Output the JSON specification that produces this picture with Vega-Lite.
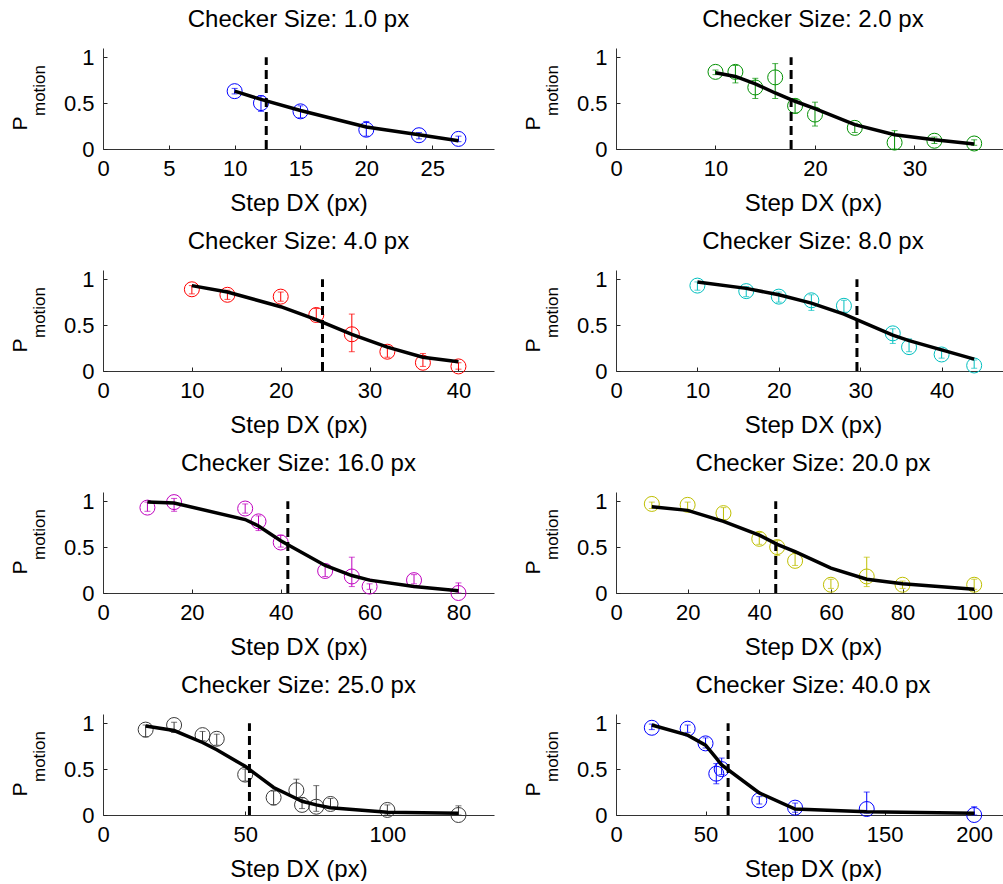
{
"$schema": "https://vega.github.io/schema/vega-lite/v6.json",
"padding": {"left": 9, "top": 8, "right": 0, "bottom": 0},
"datasets": {
"pts": [
{"panel":1,"dx":10,"p":0.63,"lo":0.60,"hi":0.66},
{"panel":1,"dx":12,"p":0.50,"lo":0.41,"hi":0.58},
{"panel":1,"dx":15,"p":0.41,"lo":0.34,"hi":0.47},
{"panel":1,"dx":20,"p":0.21,"lo":0.14,"hi":0.30},
{"panel":1,"dx":24,"p":0.15,"lo":0.11,"hi":0.18},
{"panel":1,"dx":27,"p":0.11,"lo":0.08,"hi":0.14},
{"panel":2,"dx":10,"p":0.84,"lo":0.81,"hi":0.86},
{"panel":2,"dx":12,"p":0.84,"lo":0.72,"hi":0.91},
{"panel":2,"dx":14,"p":0.67,"lo":0.55,"hi":0.77},
{"panel":2,"dx":16,"p":0.78,"lo":0.55,"hi":0.93},
{"panel":2,"dx":18,"p":0.47,"lo":0.39,"hi":0.54},
{"panel":2,"dx":20,"p":0.375,"lo":0.25,"hi":0.51},
{"panel":2,"dx":24,"p":0.23,"lo":0.18,"hi":0.28},
{"panel":2,"dx":28,"p":0.07,"lo":0.0,"hi":0.2},
{"panel":2,"dx":32,"p":0.09,"lo":0.06,"hi":0.13},
{"panel":2,"dx":36,"p":0.06,"lo":0.04,"hi":0.10},
{"panel":3,"dx":10,"p":0.89,"lo":0.84,"hi":0.93},
{"panel":3,"dx":14,"p":0.83,"lo":0.78,"hi":0.88},
{"panel":3,"dx":20,"p":0.81,"lo":0.76,"hi":0.86},
{"panel":3,"dx":24,"p":0.61,"lo":0.55,"hi":0.68},
{"panel":3,"dx":28,"p":0.40,"lo":0.21,"hi":0.62},
{"panel":3,"dx":32,"p":0.21,"lo":0.15,"hi":0.27},
{"panel":3,"dx":36,"p":0.09,"lo":0.05,"hi":0.19},
{"panel":3,"dx":40,"p":0.05,"lo":0.02,"hi":0.09},
{"panel":4,"dx":10,"p":0.93,"lo":0.88,"hi":0.97},
{"panel":4,"dx":16,"p":0.87,"lo":0.81,"hi":0.92},
{"panel":4,"dx":20,"p":0.81,"lo":0.75,"hi":0.86},
{"panel":4,"dx":24,"p":0.77,"lo":0.66,"hi":0.83},
{"panel":4,"dx":28,"p":0.71,"lo":0.64,"hi":0.77},
{"panel":4,"dx":34,"p":0.41,"lo":0.30,"hi":0.46},
{"panel":4,"dx":36,"p":0.26,"lo":0.21,"hi":0.35},
{"panel":4,"dx":40,"p":0.18,"lo":0.14,"hi":0.24},
{"panel":4,"dx":44,"p":0.06,"lo":0.03,"hi":0.12},
{"panel":5,"dx":10,"p":0.93,"lo":0.89,"hi":0.99},
{"panel":5,"dx":16,"p":0.99,"lo":0.89,"hi":1.03},
{"panel":5,"dx":32,"p":0.92,"lo":0.87,"hi":0.97},
{"panel":5,"dx":35,"p":0.78,"lo":0.68,"hi":0.84},
{"panel":5,"dx":40,"p":0.55,"lo":0.50,"hi":0.63},
{"panel":5,"dx":50,"p":0.24,"lo":0.18,"hi":0.30},
{"panel":5,"dx":56,"p":0.18,"lo":0.07,"hi":0.39},
{"panel":5,"dx":60,"p":0.07,"lo":0.04,"hi":0.10},
{"panel":5,"dx":70,"p":0.14,"lo":0.10,"hi":0.20},
{"panel":5,"dx":80,"p":0.0,"lo":0.0,"hi":0.11},
{"panel":6,"dx":10,"p":0.97,"lo":0.92,"hi":0.99},
{"panel":6,"dx":20,"p":0.96,"lo":0.91,"hi":0.99},
{"panel":6,"dx":30,"p":0.87,"lo":0.80,"hi":0.93},
{"panel":6,"dx":40,"p":0.59,"lo":0.53,"hi":0.66},
{"panel":6,"dx":45,"p":0.50,"lo":0.41,"hi":0.57},
{"panel":6,"dx":50,"p":0.35,"lo":0.30,"hi":0.44},
{"panel":6,"dx":60,"p":0.09,"lo":0.05,"hi":0.15},
{"panel":6,"dx":70,"p":0.18,"lo":0.07,"hi":0.39},
{"panel":6,"dx":80,"p":0.09,"lo":0.05,"hi":0.13},
{"panel":6,"dx":100,"p":0.09,"lo":0.04,"hi":0.15},
{"panel":7,"dx":15,"p":0.93,"lo":0.85,"hi":0.98},
{"panel":7,"dx":25,"p":0.98,"lo":0.90,"hi":1.01},
{"panel":7,"dx":35,"p":0.87,"lo":0.81,"hi":0.91},
{"panel":7,"dx":40,"p":0.83,"lo":0.76,"hi":0.88},
{"panel":7,"dx":50,"p":0.44,"lo":0.37,"hi":0.50},
{"panel":7,"dx":60,"p":0.19,"lo":0.11,"hi":0.26},
{"panel":7,"dx":68,"p":0.27,"lo":0.18,"hi":0.39},
{"panel":7,"dx":70,"p":0.11,"lo":0.07,"hi":0.19},
{"panel":7,"dx":75,"p":0.09,"lo":0.04,"hi":0.32},
{"panel":7,"dx":80,"p":0.12,"lo":0.07,"hi":0.18},
{"panel":7,"dx":100,"p":0.055,"lo":0.01,"hi":0.11},
{"panel":7,"dx":125,"p":0.0,"lo":0.0,"hi":0.10},
{"panel":8,"dx":20,"p":0.95,"lo":0.93,"hi":0.99},
{"panel":8,"dx":40,"p":0.94,"lo":0.90,"hi":0.98},
{"panel":8,"dx":50,"p":0.78,"lo":0.73,"hi":0.84},
{"panel":8,"dx":56,"p":0.45,"lo":0.34,"hi":0.56},
{"panel":8,"dx":59,"p":0.50,"lo":0.44,"hi":0.62},
{"panel":8,"dx":80,"p":0.16,"lo":0.12,"hi":0.20},
{"panel":8,"dx":100,"p":0.08,"lo":0.03,"hi":0.13},
{"panel":8,"dx":140,"p":0.065,"lo":0.02,"hi":0.25},
{"panel":8,"dx":200,"p":0.0,"lo":0.0,"hi":0.09}
],
"fit": [
{"panel":1,"dx":10,"p":0.63},{"panel":1,"dx":12,"p":0.54},{"panel":1,"dx":15,"p":0.42},{"panel":1,"dx":20,"p":0.24},{"panel":1,"dx":24,"p":0.155},{"panel":1,"dx":27,"p":0.09},
{"panel":2,"dx":10,"p":0.83},{"panel":2,"dx":12,"p":0.79},{"panel":2,"dx":14,"p":0.71},{"panel":2,"dx":16,"p":0.61},{"panel":2,"dx":18,"p":0.52},{"panel":2,"dx":20,"p":0.44},{"panel":2,"dx":24,"p":0.265},{"panel":2,"dx":28,"p":0.155},{"panel":2,"dx":32,"p":0.10},{"panel":2,"dx":36,"p":0.055},
{"panel":3,"dx":10,"p":0.93},{"panel":3,"dx":14,"p":0.86},{"panel":3,"dx":20,"p":0.70},{"panel":3,"dx":24,"p":0.56},{"panel":3,"dx":28,"p":0.40},{"panel":3,"dx":32,"p":0.26},{"panel":3,"dx":36,"p":0.15},{"panel":3,"dx":40,"p":0.10},
{"panel":4,"dx":10,"p":0.97},{"panel":4,"dx":16,"p":0.90},{"panel":4,"dx":20,"p":0.83},{"panel":4,"dx":24,"p":0.74},{"panel":4,"dx":28,"p":0.62},{"panel":4,"dx":34,"p":0.39},{"panel":4,"dx":36,"p":0.33},{"panel":4,"dx":40,"p":0.23},{"panel":4,"dx":44,"p":0.13},
{"panel":5,"dx":10,"p":0.99},{"panel":5,"dx":16,"p":0.98},{"panel":5,"dx":32,"p":0.80},{"panel":5,"dx":35,"p":0.73},{"panel":5,"dx":40,"p":0.57},{"panel":5,"dx":50,"p":0.30},{"panel":5,"dx":56,"p":0.19},{"panel":5,"dx":60,"p":0.14},{"panel":5,"dx":70,"p":0.07},{"panel":5,"dx":80,"p":0.025},
{"panel":6,"dx":10,"p":0.94},{"panel":6,"dx":20,"p":0.90},{"panel":6,"dx":30,"p":0.78},{"panel":6,"dx":40,"p":0.63},{"panel":6,"dx":45,"p":0.53},{"panel":6,"dx":50,"p":0.45},{"panel":6,"dx":60,"p":0.27},{"panel":6,"dx":70,"p":0.15},{"panel":6,"dx":80,"p":0.10},{"panel":6,"dx":100,"p":0.04},
{"panel":7,"dx":15,"p":0.97},{"panel":7,"dx":25,"p":0.92},{"panel":7,"dx":35,"p":0.79},{"panel":7,"dx":40,"p":0.71},{"panel":7,"dx":50,"p":0.53},{"panel":7,"dx":60,"p":0.30},{"panel":7,"dx":68,"p":0.18},{"panel":7,"dx":70,"p":0.15},{"panel":7,"dx":75,"p":0.11},{"panel":7,"dx":80,"p":0.08},{"panel":7,"dx":100,"p":0.03},{"panel":7,"dx":125,"p":0.02},
{"panel":8,"dx":20,"p":0.98},{"panel":8,"dx":40,"p":0.87},{"panel":8,"dx":50,"p":0.76},{"panel":8,"dx":56,"p":0.62},{"panel":8,"dx":59,"p":0.545},{"panel":8,"dx":80,"p":0.24},{"panel":8,"dx":100,"p":0.065},{"panel":8,"dx":140,"p":0.035},{"panel":8,"dx":200,"p":0.02}
],
"thr": [
{"panel":1,"dx":12.4,"y0":0,"y1":1},{"panel":2,"dx":17.6,"y0":0,"y1":1},{"panel":3,"dx":24.7,"y0":0,"y1":1},{"panel":4,"dx":29.6,"y0":0,"y1":1},
{"panel":5,"dx":41.6,"y0":0,"y1":1},{"panel":6,"dx":44.6,"y0":0,"y1":1},{"panel":7,"dx":51.5,"y0":0,"y1":1},{"panel":8,"dx":62.6,"y0":0,"y1":1}
]
},
"columns": 2,
"bounds": "flush",
"spacing": {"row": 121, "column": 122},
"concat": [
{"title":"Checker Size: 1.0 px","width":391,"height":101,"resolve":{"axis":{"y":"independent"}},"layer":[
{"data":{"name":"pts"},"transform":[{"filter":"datum.panel==1"}],"mark":{"type":"rule","color":"#0000FF","strokeWidth":1},"encoding":{"x":{"field":"dx","type":"quantitative","scale":{"domain":[0,29.7],"nice":false,"zero":false},"axis":{"values":[0,5,10,15,20,25],"title":"Step DX (px)"}},"y":{"field":"lo","type":"quantitative","scale":{"domain":[0,1.1],"nice":false},"axis":{"orient":"left","values":[0,0.5,1],"format":"~g","title":"P","titleFontSize":21,"titleX":-77,"titleY":75,"titleBaseline":"alphabetic","titleAngle":-90}},"y2":{"field":"hi"}}},
{"data":{"name":"pts"},"transform":[{"filter":"datum.panel==1"}],"mark":{"type":"tick","orient":"horizontal","size":6,"thickness":1,"color":"#0000FF"},"encoding":{"x":{"field":"dx","type":"quantitative"},"y":{"field":"lo","type":"quantitative","axis":null}}},
{"data":{"name":"pts"},"transform":[{"filter":"datum.panel==1"}],"mark":{"type":"tick","orient":"horizontal","size":6,"thickness":1,"color":"#0000FF"},"encoding":{"x":{"field":"dx","type":"quantitative"},"y":{"field":"hi","type":"quantitative","axis":null}}},
{"data":{"name":"pts"},"transform":[{"filter":"datum.panel==1"}],"mark":{"type":"point","shape":"circle","size":225,"strokeWidth":1,"color":"#0000FF","opacity":1},"encoding":{"x":{"field":"dx","type":"quantitative"},"y":{"field":"p","type":"quantitative","axis":null}}},
{"data":{"name":"fit"},"transform":[{"filter":"datum.panel==1"}],"mark":{"type":"line","color":"#000000","strokeWidth":3.5},"encoding":{"x":{"field":"dx","type":"quantitative"},"y":{"field":"p","type":"quantitative","axis":{"orient":"left","title":"motion","labels":false,"ticks":false,"domain":false,"titleFontSize":17,"titleX":-59,"titleY":42,"titleBaseline":"alphabetic","titleAngle":-90}}}},
{"data":{"name":"thr"},"transform":[{"filter":"datum.panel==1"}],"mark":{"type":"rule","color":"#000000","strokeWidth":3,"strokeDash":[9,5]},"encoding":{"x":{"field":"dx","type":"quantitative"},"y":{"field":"y0","type":"quantitative","axis":null},"y2":{"field":"y1"}}}
]},
{"title":"Checker Size: 2.0 px","width":394,"height":101,"resolve":{"axis":{"y":"independent"}},"layer":[
{"data":{"name":"pts"},"transform":[{"filter":"datum.panel==2"}],"mark":{"type":"rule","color":"#009000","strokeWidth":1},"encoding":{"x":{"field":"dx","type":"quantitative","scale":{"domain":[0,39.6],"nice":false,"zero":false},"axis":{"values":[0,10,20,30],"title":"Step DX (px)"}},"y":{"field":"lo","type":"quantitative","scale":{"domain":[0,1.1],"nice":false},"axis":{"orient":"left","values":[0,0.5,1],"format":"~g","title":"P","titleFontSize":21,"titleX":-77,"titleY":75,"titleBaseline":"alphabetic","titleAngle":-90}},"y2":{"field":"hi"}}},
{"data":{"name":"pts"},"transform":[{"filter":"datum.panel==2"}],"mark":{"type":"tick","orient":"horizontal","size":6,"thickness":1,"color":"#009000"},"encoding":{"x":{"field":"dx","type":"quantitative"},"y":{"field":"lo","type":"quantitative","axis":null}}},
{"data":{"name":"pts"},"transform":[{"filter":"datum.panel==2"}],"mark":{"type":"tick","orient":"horizontal","size":6,"thickness":1,"color":"#009000"},"encoding":{"x":{"field":"dx","type":"quantitative"},"y":{"field":"hi","type":"quantitative","axis":null}}},
{"data":{"name":"pts"},"transform":[{"filter":"datum.panel==2"}],"mark":{"type":"point","shape":"circle","size":225,"strokeWidth":1,"color":"#009000","opacity":1},"encoding":{"x":{"field":"dx","type":"quantitative"},"y":{"field":"p","type":"quantitative","axis":null}}},
{"data":{"name":"fit"},"transform":[{"filter":"datum.panel==2"}],"mark":{"type":"line","color":"#000000","strokeWidth":3.5},"encoding":{"x":{"field":"dx","type":"quantitative"},"y":{"field":"p","type":"quantitative","axis":{"orient":"left","title":"motion","labels":false,"ticks":false,"domain":false,"titleFontSize":17,"titleX":-59,"titleY":42,"titleBaseline":"alphabetic","titleAngle":-90}}}},
{"data":{"name":"thr"},"transform":[{"filter":"datum.panel==2"}],"mark":{"type":"rule","color":"#000000","strokeWidth":3,"strokeDash":[9,5]},"encoding":{"x":{"field":"dx","type":"quantitative"},"y":{"field":"y0","type":"quantitative","axis":null},"y2":{"field":"y1"}}}
]},
{"title":"Checker Size: 4.0 px","width":391,"height":101,"resolve":{"axis":{"y":"independent"}},"layer":[
{"data":{"name":"pts"},"transform":[{"filter":"datum.panel==3"}],"mark":{"type":"rule","color":"#FF0000","strokeWidth":1},"encoding":{"x":{"field":"dx","type":"quantitative","scale":{"domain":[0,44],"nice":false,"zero":false},"axis":{"values":[0,10,20,30,40],"title":"Step DX (px)"}},"y":{"field":"lo","type":"quantitative","scale":{"domain":[0,1.1],"nice":false},"axis":{"orient":"left","values":[0,0.5,1],"format":"~g","title":"P","titleFontSize":21,"titleX":-77,"titleY":75,"titleBaseline":"alphabetic","titleAngle":-90}},"y2":{"field":"hi"}}},
{"data":{"name":"pts"},"transform":[{"filter":"datum.panel==3"}],"mark":{"type":"tick","orient":"horizontal","size":6,"thickness":1,"color":"#FF0000"},"encoding":{"x":{"field":"dx","type":"quantitative"},"y":{"field":"lo","type":"quantitative","axis":null}}},
{"data":{"name":"pts"},"transform":[{"filter":"datum.panel==3"}],"mark":{"type":"tick","orient":"horizontal","size":6,"thickness":1,"color":"#FF0000"},"encoding":{"x":{"field":"dx","type":"quantitative"},"y":{"field":"hi","type":"quantitative","axis":null}}},
{"data":{"name":"pts"},"transform":[{"filter":"datum.panel==3"}],"mark":{"type":"point","shape":"circle","size":225,"strokeWidth":1,"color":"#FF0000","opacity":1},"encoding":{"x":{"field":"dx","type":"quantitative"},"y":{"field":"p","type":"quantitative","axis":null}}},
{"data":{"name":"fit"},"transform":[{"filter":"datum.panel==3"}],"mark":{"type":"line","color":"#000000","strokeWidth":3.5},"encoding":{"x":{"field":"dx","type":"quantitative"},"y":{"field":"p","type":"quantitative","axis":{"orient":"left","title":"motion","labels":false,"ticks":false,"domain":false,"titleFontSize":17,"titleX":-59,"titleY":42,"titleBaseline":"alphabetic","titleAngle":-90}}}},
{"data":{"name":"thr"},"transform":[{"filter":"datum.panel==3"}],"mark":{"type":"rule","color":"#000000","strokeWidth":3,"strokeDash":[9,5]},"encoding":{"x":{"field":"dx","type":"quantitative"},"y":{"field":"y0","type":"quantitative","axis":null},"y2":{"field":"y1"}}}
]},
{"title":"Checker Size: 8.0 px","width":394,"height":101,"resolve":{"axis":{"y":"independent"}},"layer":[
{"data":{"name":"pts"},"transform":[{"filter":"datum.panel==4"}],"mark":{"type":"rule","color":"#00BFBF","strokeWidth":1},"encoding":{"x":{"field":"dx","type":"quantitative","scale":{"domain":[0,48.4],"nice":false,"zero":false},"axis":{"values":[0,10,20,30,40],"title":"Step DX (px)"}},"y":{"field":"lo","type":"quantitative","scale":{"domain":[0,1.1],"nice":false},"axis":{"orient":"left","values":[0,0.5,1],"format":"~g","title":"P","titleFontSize":21,"titleX":-77,"titleY":75,"titleBaseline":"alphabetic","titleAngle":-90}},"y2":{"field":"hi"}}},
{"data":{"name":"pts"},"transform":[{"filter":"datum.panel==4"}],"mark":{"type":"tick","orient":"horizontal","size":6,"thickness":1,"color":"#00BFBF"},"encoding":{"x":{"field":"dx","type":"quantitative"},"y":{"field":"lo","type":"quantitative","axis":null}}},
{"data":{"name":"pts"},"transform":[{"filter":"datum.panel==4"}],"mark":{"type":"tick","orient":"horizontal","size":6,"thickness":1,"color":"#00BFBF"},"encoding":{"x":{"field":"dx","type":"quantitative"},"y":{"field":"hi","type":"quantitative","axis":null}}},
{"data":{"name":"pts"},"transform":[{"filter":"datum.panel==4"}],"mark":{"type":"point","shape":"circle","size":225,"strokeWidth":1,"color":"#00BFBF","opacity":1},"encoding":{"x":{"field":"dx","type":"quantitative"},"y":{"field":"p","type":"quantitative","axis":null}}},
{"data":{"name":"fit"},"transform":[{"filter":"datum.panel==4"}],"mark":{"type":"line","color":"#000000","strokeWidth":3.5},"encoding":{"x":{"field":"dx","type":"quantitative"},"y":{"field":"p","type":"quantitative","axis":{"orient":"left","title":"motion","labels":false,"ticks":false,"domain":false,"titleFontSize":17,"titleX":-59,"titleY":42,"titleBaseline":"alphabetic","titleAngle":-90}}}},
{"data":{"name":"thr"},"transform":[{"filter":"datum.panel==4"}],"mark":{"type":"rule","color":"#000000","strokeWidth":3,"strokeDash":[9,5]},"encoding":{"x":{"field":"dx","type":"quantitative"},"y":{"field":"y0","type":"quantitative","axis":null},"y2":{"field":"y1"}}}
]},
{"title":"Checker Size: 16.0 px","width":391,"height":101,"resolve":{"axis":{"y":"independent"}},"layer":[
{"data":{"name":"pts"},"transform":[{"filter":"datum.panel==5"}],"mark":{"type":"rule","color":"#BF00BF","strokeWidth":1},"encoding":{"x":{"field":"dx","type":"quantitative","scale":{"domain":[0,88],"nice":false,"zero":false},"axis":{"values":[0,20,40,60,80],"title":"Step DX (px)"}},"y":{"field":"lo","type":"quantitative","scale":{"domain":[0,1.1],"nice":false},"axis":{"orient":"left","values":[0,0.5,1],"format":"~g","title":"P","titleFontSize":21,"titleX":-77,"titleY":75,"titleBaseline":"alphabetic","titleAngle":-90}},"y2":{"field":"hi"}}},
{"data":{"name":"pts"},"transform":[{"filter":"datum.panel==5"}],"mark":{"type":"tick","orient":"horizontal","size":6,"thickness":1,"color":"#BF00BF"},"encoding":{"x":{"field":"dx","type":"quantitative"},"y":{"field":"lo","type":"quantitative","axis":null}}},
{"data":{"name":"pts"},"transform":[{"filter":"datum.panel==5"}],"mark":{"type":"tick","orient":"horizontal","size":6,"thickness":1,"color":"#BF00BF"},"encoding":{"x":{"field":"dx","type":"quantitative"},"y":{"field":"hi","type":"quantitative","axis":null}}},
{"data":{"name":"pts"},"transform":[{"filter":"datum.panel==5"}],"mark":{"type":"point","shape":"circle","size":225,"strokeWidth":1,"color":"#BF00BF","opacity":1},"encoding":{"x":{"field":"dx","type":"quantitative"},"y":{"field":"p","type":"quantitative","axis":null}}},
{"data":{"name":"fit"},"transform":[{"filter":"datum.panel==5"}],"mark":{"type":"line","color":"#000000","strokeWidth":3.5},"encoding":{"x":{"field":"dx","type":"quantitative"},"y":{"field":"p","type":"quantitative","axis":{"orient":"left","title":"motion","labels":false,"ticks":false,"domain":false,"titleFontSize":17,"titleX":-59,"titleY":42,"titleBaseline":"alphabetic","titleAngle":-90}}}},
{"data":{"name":"thr"},"transform":[{"filter":"datum.panel==5"}],"mark":{"type":"rule","color":"#000000","strokeWidth":3,"strokeDash":[9,5]},"encoding":{"x":{"field":"dx","type":"quantitative"},"y":{"field":"y0","type":"quantitative","axis":null},"y2":{"field":"y1"}}}
]},
{"title":"Checker Size: 20.0 px","width":394,"height":101,"resolve":{"axis":{"y":"independent"}},"layer":[
{"data":{"name":"pts"},"transform":[{"filter":"datum.panel==6"}],"mark":{"type":"rule","color":"#BFBF00","strokeWidth":1},"encoding":{"x":{"field":"dx","type":"quantitative","scale":{"domain":[0,110],"nice":false,"zero":false},"axis":{"values":[0,20,40,60,80,100],"title":"Step DX (px)"}},"y":{"field":"lo","type":"quantitative","scale":{"domain":[0,1.1],"nice":false},"axis":{"orient":"left","values":[0,0.5,1],"format":"~g","title":"P","titleFontSize":21,"titleX":-77,"titleY":75,"titleBaseline":"alphabetic","titleAngle":-90}},"y2":{"field":"hi"}}},
{"data":{"name":"pts"},"transform":[{"filter":"datum.panel==6"}],"mark":{"type":"tick","orient":"horizontal","size":6,"thickness":1,"color":"#BFBF00"},"encoding":{"x":{"field":"dx","type":"quantitative"},"y":{"field":"lo","type":"quantitative","axis":null}}},
{"data":{"name":"pts"},"transform":[{"filter":"datum.panel==6"}],"mark":{"type":"tick","orient":"horizontal","size":6,"thickness":1,"color":"#BFBF00"},"encoding":{"x":{"field":"dx","type":"quantitative"},"y":{"field":"hi","type":"quantitative","axis":null}}},
{"data":{"name":"pts"},"transform":[{"filter":"datum.panel==6"}],"mark":{"type":"point","shape":"circle","size":225,"strokeWidth":1,"color":"#BFBF00","opacity":1},"encoding":{"x":{"field":"dx","type":"quantitative"},"y":{"field":"p","type":"quantitative","axis":null}}},
{"data":{"name":"fit"},"transform":[{"filter":"datum.panel==6"}],"mark":{"type":"line","color":"#000000","strokeWidth":3.5},"encoding":{"x":{"field":"dx","type":"quantitative"},"y":{"field":"p","type":"quantitative","axis":{"orient":"left","title":"motion","labels":false,"ticks":false,"domain":false,"titleFontSize":17,"titleX":-59,"titleY":42,"titleBaseline":"alphabetic","titleAngle":-90}}}},
{"data":{"name":"thr"},"transform":[{"filter":"datum.panel==6"}],"mark":{"type":"rule","color":"#000000","strokeWidth":3,"strokeDash":[9,5]},"encoding":{"x":{"field":"dx","type":"quantitative"},"y":{"field":"y0","type":"quantitative","axis":null},"y2":{"field":"y1"}}}
]},
{"title":"Checker Size: 25.0 px","width":391,"height":101,"resolve":{"axis":{"y":"independent"}},"layer":[
{"data":{"name":"pts"},"transform":[{"filter":"datum.panel==7"}],"mark":{"type":"rule","color":"#3A3A3A","strokeWidth":1},"encoding":{"x":{"field":"dx","type":"quantitative","scale":{"domain":[0,137.5],"nice":false,"zero":false},"axis":{"values":[0,50,100],"title":"Step DX (px)"}},"y":{"field":"lo","type":"quantitative","scale":{"domain":[0,1.1],"nice":false},"axis":{"orient":"left","values":[0,0.5,1],"format":"~g","title":"P","titleFontSize":21,"titleX":-77,"titleY":75,"titleBaseline":"alphabetic","titleAngle":-90}},"y2":{"field":"hi"}}},
{"data":{"name":"pts"},"transform":[{"filter":"datum.panel==7"}],"mark":{"type":"tick","orient":"horizontal","size":6,"thickness":1,"color":"#3A3A3A"},"encoding":{"x":{"field":"dx","type":"quantitative"},"y":{"field":"lo","type":"quantitative","axis":null}}},
{"data":{"name":"pts"},"transform":[{"filter":"datum.panel==7"}],"mark":{"type":"tick","orient":"horizontal","size":6,"thickness":1,"color":"#3A3A3A"},"encoding":{"x":{"field":"dx","type":"quantitative"},"y":{"field":"hi","type":"quantitative","axis":null}}},
{"data":{"name":"pts"},"transform":[{"filter":"datum.panel==7"}],"mark":{"type":"point","shape":"circle","size":225,"strokeWidth":1,"color":"#3A3A3A","opacity":1},"encoding":{"x":{"field":"dx","type":"quantitative"},"y":{"field":"p","type":"quantitative","axis":null}}},
{"data":{"name":"fit"},"transform":[{"filter":"datum.panel==7"}],"mark":{"type":"line","color":"#000000","strokeWidth":3.5},"encoding":{"x":{"field":"dx","type":"quantitative"},"y":{"field":"p","type":"quantitative","axis":{"orient":"left","title":"motion","labels":false,"ticks":false,"domain":false,"titleFontSize":17,"titleX":-59,"titleY":42,"titleBaseline":"alphabetic","titleAngle":-90}}}},
{"data":{"name":"thr"},"transform":[{"filter":"datum.panel==7"}],"mark":{"type":"rule","color":"#000000","strokeWidth":3,"strokeDash":[9,5]},"encoding":{"x":{"field":"dx","type":"quantitative"},"y":{"field":"y0","type":"quantitative","axis":null},"y2":{"field":"y1"}}}
]},
{"title":"Checker Size: 40.0 px","width":394,"height":101,"resolve":{"axis":{"y":"independent"}},"layer":[
{"data":{"name":"pts"},"transform":[{"filter":"datum.panel==8"}],"mark":{"type":"rule","color":"#0000FF","strokeWidth":1},"encoding":{"x":{"field":"dx","type":"quantitative","scale":{"domain":[0,220],"nice":false,"zero":false},"axis":{"values":[0,50,100,150,200],"title":"Step DX (px)"}},"y":{"field":"lo","type":"quantitative","scale":{"domain":[0,1.1],"nice":false},"axis":{"orient":"left","values":[0,0.5,1],"format":"~g","title":"P","titleFontSize":21,"titleX":-77,"titleY":75,"titleBaseline":"alphabetic","titleAngle":-90}},"y2":{"field":"hi"}}},
{"data":{"name":"pts"},"transform":[{"filter":"datum.panel==8"}],"mark":{"type":"tick","orient":"horizontal","size":6,"thickness":1,"color":"#0000FF"},"encoding":{"x":{"field":"dx","type":"quantitative"},"y":{"field":"lo","type":"quantitative","axis":null}}},
{"data":{"name":"pts"},"transform":[{"filter":"datum.panel==8"}],"mark":{"type":"tick","orient":"horizontal","size":6,"thickness":1,"color":"#0000FF"},"encoding":{"x":{"field":"dx","type":"quantitative"},"y":{"field":"hi","type":"quantitative","axis":null}}},
{"data":{"name":"pts"},"transform":[{"filter":"datum.panel==8"}],"mark":{"type":"point","shape":"circle","size":225,"strokeWidth":1,"color":"#0000FF","opacity":1},"encoding":{"x":{"field":"dx","type":"quantitative"},"y":{"field":"p","type":"quantitative","axis":null}}},
{"data":{"name":"fit"},"transform":[{"filter":"datum.panel==8"}],"mark":{"type":"line","color":"#000000","strokeWidth":3.5},"encoding":{"x":{"field":"dx","type":"quantitative"},"y":{"field":"p","type":"quantitative","axis":{"orient":"left","title":"motion","labels":false,"ticks":false,"domain":false,"titleFontSize":17,"titleX":-59,"titleY":42,"titleBaseline":"alphabetic","titleAngle":-90}}}},
{"data":{"name":"thr"},"transform":[{"filter":"datum.panel==8"}],"mark":{"type":"rule","color":"#000000","strokeWidth":3,"strokeDash":[9,5]},"encoding":{"x":{"field":"dx","type":"quantitative"},"y":{"field":"y0","type":"quantitative","axis":null},"y2":{"field":"y1"}}}
]}
],
"config": {
"font": "Liberation Sans",
"background": "white",
"view": {"stroke": null},
"axis": {"grid": false, "domainColor": "#333333", "tickColor": "#222222", "labelColor": "#000000", "titleColor": "#000000", "labelFontSize": 22, "titleFontSize": 24, "titleFontWeight": "normal", "tickSize": -4, "labelFlush": false, "labelOverlap": false, "labelPadding": 13, "titlePadding": 12},
"title": {"fontSize": 24, "fontWeight": "normal", "color": "#000000", "offset": 14, "anchor": "middle", "frame": "group"}
}
}
